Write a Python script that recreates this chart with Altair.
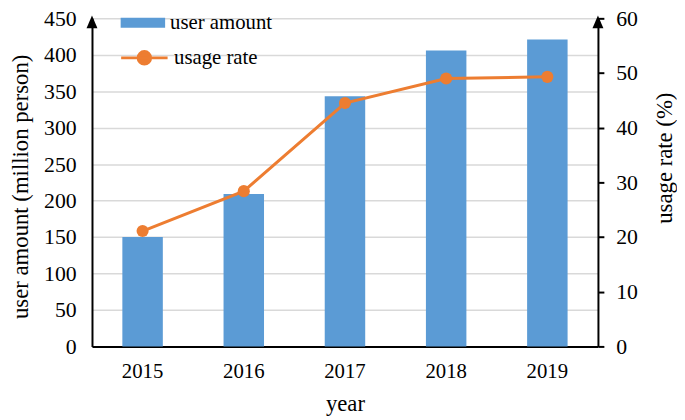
import altair as alt
import pandas as pd

years = ["2015", "2016", "2017", "2018", "2019"]
user_amount = [150, 209, 343, 406, 421]
usage_rate = [21.1, 28.4, 44.5, 49.0, 49.3]
left_ticks = [0, 50, 100, 150, 200, 250, 300, 350, 400, 450]
right_ticks = [0, 10, 20, 30, 40, 50, 60]

df = pd.DataFrame({
    "year": years,
    "user": user_amount,
    "rate": usage_rate,
    "s1": ["user amount"] * 5,
    "s2": ["usage rate"] * 5,
})

FONT = "Liberation Serif"
FS_TICK = 22
FS_X = 21
FS_TITLE = 23
FS_LEG = 21
BLUE = "#5b9bd5"
ORANGE = "#ed7d31"

ARROW = "M-0.85,2L0.85,2L0,0Z"
RECT = "M-1,-0.222L1,-0.222L1,0.222L-1,0.222Z"
LINEDOT = "M-1,0L1,0M-0.27,0A0.27,0.27 0 1,0 0.27,0A0.27,0.27 0 1,0 -0.27,0Z"

x_enc = alt.X(
    "year:N",
    scale=alt.Scale(paddingInner=0.6, paddingOuter=0.3),
    axis=alt.Axis(
        title="year", labelAngle=0, ticks=False, grid=False,
        domainColor="black", domainWidth=2,
        labelFont=FONT, labelFontSize=FS_X, labelColor="black", labelPadding=14,
        titleFont=FONT, titleFontSize=FS_TITLE, titleFontWeight="normal", titleColor="black",
        titleY=65, titleBaseline="alphabetic",
    ),
)

bars = alt.Chart(df).mark_bar(color=BLUE).encode(
    x=x_enc,
    y=alt.Y(
        "user:Q",
        scale=alt.Scale(domain=[0, 450], nice=False),
        axis=alt.Axis(
            title="user amount (million person)", values=left_ticks, ticks=False,
            grid=True, gridColor="#d9d9d9", gridWidth=1.5,
            domainColor="black", domainWidth=2,
            labelFont=FONT, labelFontSize=FS_TICK, labelColor="black", labelPadding=16,
            titleFont=FONT, titleFontSize=FS_TITLE, titleFontWeight="normal", titleColor="black",
            titleAngle=270, titleX=-72, titleY=170, titleBaseline="middle", titleAlign="center",
        ),
    ),
    color=alt.Color(
        "s1:N",
        scale=alt.Scale(domain=["user amount"], range=[BLUE]),
        legend=alt.Legend(
            title=None, orient="none", legendX=29, legendY=-18, padding=0,
            symbolType=RECT, symbolSize=2025, symbolStrokeWidth=0,
            labelFont=FONT, labelFontSize=FS_LEG, labelColor="black", labelOffset=5,
        ),
    ),
)

arrow_l = alt.Chart(alt.Data(values=[{"a": 1}])).mark_point(
    shape=ARROW, size=169, filled=True, color="black", opacity=1
).encode(x=alt.value(0), y=alt.value(-3))

left = alt.layer(bars, arrow_l)

line = alt.Chart(df).mark_line(color=ORANGE, strokeWidth=3).encode(
    x="year:N",
    y=alt.Y(
        "rate:Q",
        scale=alt.Scale(domain=[0, 60], nice=False),
        axis=alt.Axis(
            orient="right", title="usage rate (%)", values=right_ticks,
            ticks=True, tickSize=6, tickWidth=2, tickColor="black", grid=False,
            domainColor="black", domainWidth=2,
            labelFont=FONT, labelFontSize=FS_TICK, labelColor="black", labelPadding=12,
            titleFont=FONT, titleFontSize=FS_TITLE, titleFontWeight="normal", titleColor="black",
            titleAngle=270, titleX=67, titleY=141, titleBaseline="middle", titleAlign="center",
        ),
    ),
)

pts = alt.Chart(df).mark_circle(size=150, opacity=1).encode(
    x="year:N",
    y="rate:Q",
    color=alt.Color(
        "s2:N",
        scale=alt.Scale(domain=["usage rate"], range=[ORANGE]),
        legend=alt.Legend(
            title=None, orient="none", legendX=28, legendY=15, padding=0,
            symbolType=LINEDOT, symbolSize=2209, symbolStrokeWidth=3,
            symbolStrokeColor=ORANGE, symbolFillColor=ORANGE,
            labelFont=FONT, labelFontSize=FS_LEG, labelColor="black", labelOffset=5,
        ),
    ),
)

arrow_r = alt.Chart(alt.Data(values=[{"a": 1}])).mark_point(
    shape=ARROW, size=169, filled=True, color="black", opacity=1
).encode(x=alt.value(512), y=alt.value(-3))

right = alt.layer(line, pts, arrow_r)

chart = alt.layer(left, right).resolve_scale(
    y="independent", color="independent"
).resolve_legend(color="independent").properties(
    width=512, height=332,
    autosize=alt.AutoSizeParams(type="none"),
    padding={"left": 85, "top": 8, "right": 80, "bottom": 72},
    background="white",
).configure_view(stroke=None)

chart.save("out.html", embed_options={"renderer": "svg", "actions": False})
